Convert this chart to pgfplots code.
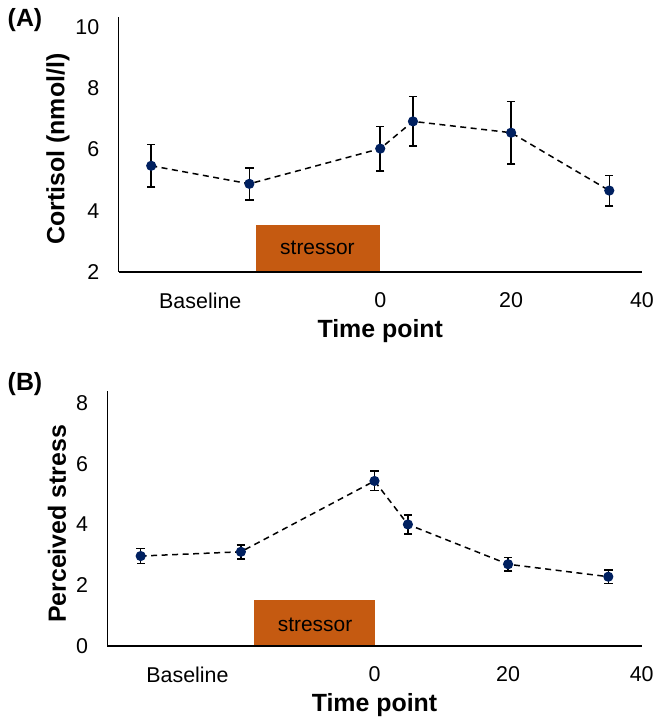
\documentclass[border=0pt]{standalone}
\usepackage{fontspec}
\setmainfont{Liberation Sans}
\usepackage{pgfplots}
\usepackage{pgfplotstable}
\pgfplotsset{compat=1.18}
\definecolor{stressor}{HTML}{C55A11}
\definecolor{navy}{HTML}{002060}
\pgfplotstableread{
x y e
-35 5.47 0.70
-20 4.88 0.52
0 6.03 0.73
5 6.92 0.81
20 6.55 1.02
35 4.66 0.50
}\cortisol
\pgfplotstableread{
x y e
-35 2.96 0.25
-20 3.10 0.23
0 5.43 0.32
5 4.00 0.31
20 2.69 0.23
35 2.28 0.22
}\stress
\pgfplotsset{
 myaxis/.style={
  scale only axis,
  axis x line*=bottom, axis y line*=left,
  axis on top,
  xmin=-40, xmax=40,
  major tick length=0pt,
  tick style={draw=none},
  xticklabels={Baseline,0,20,40},
  /pgf/number format/assume math mode=true,
  tick label style={font=\fontsize{21.5}{25}\selectfont},
  yticklabel style={anchor=east, inner sep=0pt, xshift=-19bp},
  xticklabel style={anchor=north, inner sep=0pt, yshift=-20.5bp},
  label style={font=\fontsize{25}{30}\selectfont\bfseries},
  xlabel={Time point},
  xlabel style={at={(axis description cs:0.5,0)}, anchor=center, yshift=-59bp},
 },
 datastyle/.style={black, dash pattern=on 6bp off 4.5bp, line width=1.5bp,
   mark=*, mark size=4.3bp, mark options={solid, fill=navy, draw=navy},
   error bars/.cd, y dir=both, y explicit,
   error bar style={solid, line width=1.5bp, black},
   error mark options={rotate=90, mark size=4.2bp, line width=1.5bp, solid, black}},
}
\begin{document}
\begin{tikzpicture}
\useasboundingbox (0bp,0bp) rectangle (655bp,719bp);
\begin{axis}[myaxis,
  at={(118.5bp,447bp)}, anchor=south west,
  width=523.5bp, height=255bp,
  axis line style={black, line width=1.6bp},
  xtick={-27.5,0,20,40},
  ymin=2, ymax=10.33, ytick={2,4,6,8,10},
  ylabel={Cortisol (nmol/l)},
  ylabel style={at={(axis description cs:-0.1156,0.482)}, anchor=center},
]
\addplot[fill=stressor, draw=none, forget plot] coordinates {(-19,2) (0,2) (0,3.55) (-19,3.55)} -- cycle;
\node[font=\fontsize{21}{25}\selectfont] at (axis cs:-9.6,2.78) {stressor};
\addplot[datastyle] table[x=x, y=y, y error=e] {\cortisol};
\end{axis}
\begin{axis}[myaxis,
  at={(107.3bp,73bp)}, anchor=south west,
  width=534.4bp, height=255.3bp,
  axis line style={black, line width=1.3bp},
  xtick={-28,0,20,40},
  ymin=0, ymax=8.4, ytick={0,2,4,6,8},
  ylabel={Perceived stress},
  ylabel style={at={(axis description cs:-0.0941,0.478)}, anchor=center},
]
\addplot[fill=stressor, draw=none, forget plot] coordinates {(-18,0) (0,0) (0,1.51) (-18,1.51)} -- cycle;
\node[font=\fontsize{21}{25}\selectfont] at (axis cs:-8.9,0.71) {stressor};
\draw[black!45, line width=0.7bp] (axis cs:-18,0) ++(0,-22bp) -- ++(0,-8bp);
\addplot[datastyle] table[x=x, y=y, y error=e] {\stress};
\end{axis}
\node[font=\fontsize{25}{30}\selectfont\bfseries] at (25bp,699bp) {(A)};
\node[font=\fontsize{25}{30}\selectfont\bfseries] at (25bp,335bp) {(B)};
\end{tikzpicture}
\end{document}
